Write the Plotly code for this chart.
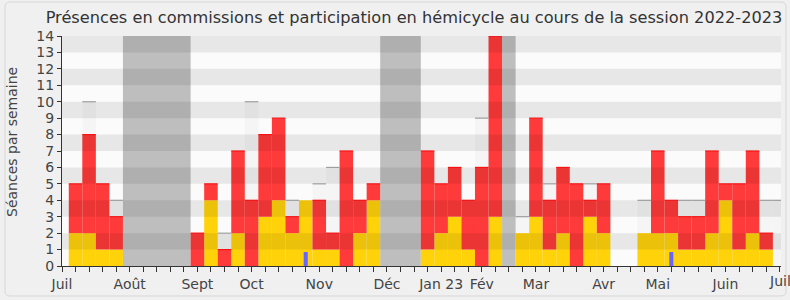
import plotly.graph_objects as go

# ---- data (week index 0 = first week of July 2022) ----
weeks = list(range(53))
hemicycle = [2, 2, 1, 1, 0, 0, 0, 0, 0, 0, 4, 0, 2, 0, 3, 4, 2, 4, 1, 1, 0, 2, 4, 0, 0, 0,
             1, 2, 3, 1, 0, 3, 0, 2, 3, 1, 2, 0, 3, 2, 0, 0, 2, 2, 2, 1, 1, 2, 4, 1, 2, 1, 0]
commission = [3, 6, 4, 2, 0, 0, 0, 0, 0, 2, 1, 1, 5, 4, 5, 5, 1, 0, 3, 1, 7, 2, 1, 0, 0, 0,
              6, 3, 3, 3, 6, 11, 0, 0, 6, 3, 4, 5, 1, 3, 0, 0, 0, 5, 2, 2, 2, 5, 1, 4, 5, 1, 0]
interventions = [0] * 53
interventions[17] = 0.85
interventions[44] = 0.85
seances_max = [None, 10, None, 4, None, None, None, None, None, None, None, 2, None, 10, None, None,
               4, None, 5, 6, None, None, None, None, None, None, None, None, None, None, 9, None,
               None, 3, None, 5, None, 5, 5, None, None, None, 4, None, None, 4, 4, None, None,
               None, None, 4, 4]
vacances = [4, 5, 6, 7, 8, 23, 24, 25, 32]
y_max = 14
month_ticks = [-1, 4, 9, 13, 18, 23, 27, 30, 34, 39, 43, 48, 52]
month_labels = ["Juil", "Août", "Sept", "Oct", "Nov", "Déc", "Jan 23", "Fév", "Mar", "Avr",
                "Mai", "Juin", "Juil"]

YELLOW = "rgb(255,210,10)"
RED = "rgb(255,58,58)"
RED_TOP = "rgb(255,20,20)"
VAC = "rgb(190,190,190)"
BLUE = "rgb(102,102,255)"
FONT = "DejaVu Sans"

totals = [h + c for h, c in zip(hemicycle, commission)]

# group consecutive vacation weeks into continuous spans
runs = []
for k in vacances:
    if runs and runs[-1][1] == k - 1:
        runs[-1][1] = k
    else:
        runs.append([k, k])
vac_x = [(a + b) / 2 for a, b in runs]
vac_w = [b - a + 1 for a, b in runs]

fig = go.Figure()
fig.add_trace(go.Bar(x=vac_x, y=[y_max] * len(vac_x), width=vac_w, marker_color=VAC,
                     marker_line_width=0, hoverinfo="skip"))
fig.add_trace(go.Bar(x=weeks, y=[v if v is not None else 0 for v in seances_max], width=1,
                     marker_color="rgba(0,0,0,0.025)", marker_line_width=0))
fig.add_trace(go.Bar(x=weeks, y=hemicycle, width=1, marker_color=YELLOW, marker_line_width=0))
fig.add_trace(go.Bar(x=weeks, y=commission, base=hemicycle, width=1, marker_color=RED,
                     marker_line_width=0))
fig.add_trace(go.Bar(x=weeks, y=interventions, width=0.3, marker_color=BLUE, marker_line_width=0))

# caps
gx, gy, rx, ry = [], [], [], []
for k in weeks:
    g = seances_max[k]
    if g is not None and g > totals[k]:
        gx += [k - 0.5, k + 0.5, None]
        gy += [g, g, None]
    if commission[k] > 0:
        rx += [k - 0.5, k + 0.5, None]
        ry += [totals[k], totals[k], None]
fig.add_trace(go.Scatter(x=gx, y=gy, mode="lines", line=dict(color="rgb(165,165,165)", width=1.2),
                         hoverinfo="skip"))
fig.add_trace(go.Scatter(x=rx, y=ry, mode="lines", line=dict(color=RED_TOP, width=1.2),
                         hoverinfo="skip"))

# stripes
shapes = []
for y0 in range(1, y_max, 2):
    shapes.append(dict(type="rect", xref="paper", yref="y", x0=0, x1=1, y0=y0, y1=y0 + 1,
                       fillcolor="rgba(0,0,0,0.08)", line_width=0, layer="above"))

L, R, T, B = 62, 9, 36, 34
W, H = 790, 300
pw, ph = W - L - R, H - T - B
def px(xp):
    return (xp - L) / pw
def py(yp):
    return (H - B - yp) / ph
# frame
x0, x1, y0, y1 = px(5), px(786), py(296), py(2)
rx_ = 5 / pw
ry_ = 5 / ph
path = (f"M {x0 + rx_},{y1} L {x1 - rx_},{y1} Q {x1},{y1} {x1},{y1 - ry_} "
        f"L {x1},{y0 + ry_} Q {x1},{y0} {x1 - rx_},{y0} L {x0 + rx_},{y0} "
        f"Q {x0},{y0} {x0},{y0 + ry_} L {x0},{y1 - ry_} Q {x0},{y1} {x0 + rx_},{y1} Z")
shapes.append(dict(type="path", xref="paper", yref="paper", path=path,
                   line=dict(color="rgb(215,215,215)", width=1), layer="below"))

tickvals = list(range(-1, 53))
# last label drawn as an annotation so it can overflow the edge like the reference
ticktext = [month_labels[month_ticks.index(t)] if (t in month_ticks and t != month_ticks[-1]) else ""
            for t in tickvals]

fig.update_layout(
    width=W, height=H, margin=dict(l=L, r=R, t=T, b=B),
    barmode="overlay", showlegend=False,
    paper_bgcolor="rgb(240,240,240)", plot_bgcolor="rgb(251,251,251)",
    font=dict(family=FONT, size=14, color="#444"),
    title=dict(text="Présences en commissions et participation en hémicycle au cours de la session 2022-2023",
               x=px(414), xref="paper", xanchor="center", y=1 - 17 / H, yanchor="middle",
               font=dict(family=FONT, size=16.2, color="#333")),
    xaxis=dict(range=[-1, 52.1], tickvals=tickvals, ticktext=ticktext, ticks="outside",
               ticklen=5, tickcolor="#333", showline=True, linecolor="#333", showgrid=False,
               zeroline=False, tickfont=dict(size=14, color="#444")),
    xaxis2=dict(range=[-1, 52.1], overlaying="x", side="top", tickvals=tickvals, ticks="inside",
                ticklen=2, tickcolor="#333", showticklabels=False, showline=False, showgrid=False,
                zeroline=False),
    yaxis=dict(range=[0, y_max], dtick=1, ticks="outside", ticklen=4, tickcolor="#333",
               showline=True, linecolor="#333", showgrid=False, zeroline=False,
               tickfont=dict(size=14, color="#444")),
    shapes=shapes,
    annotations=[
        dict(text="Séances par semaine", xref="paper", yref="paper", x=px(12), y=py(142),
             xanchor="center", yanchor="middle",
             textangle=-90, showarrow=False, font=dict(family=FONT, size=14, color="#444")),
        dict(text=month_labels[-1], xref="x", yref="paper", x=month_ticks[-1], y=py(281),
             xanchor="center", yanchor="middle", showarrow=False,
             font=dict(family=FONT, size=14, color="#444")),
    ],
)
fig.write_html("out.html")
